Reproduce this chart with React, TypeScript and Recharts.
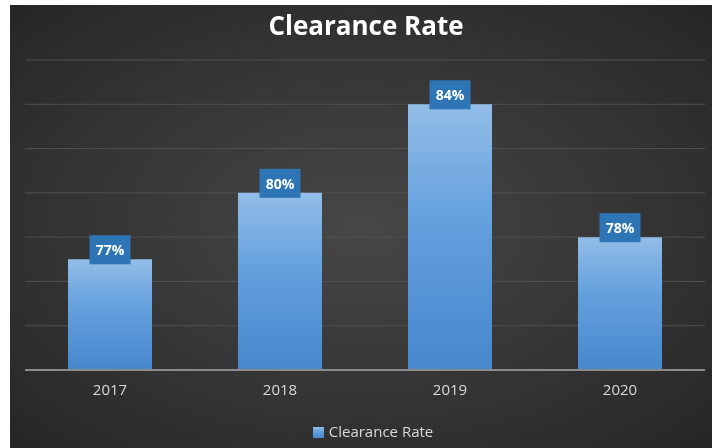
import React from 'react';
import { BarChart, Bar, XAxis, YAxis, CartesianGrid, Legend, LabelList } from 'recharts';

const years = ['2017', '2018', '2019', '2020'];
const clearanceRate = [77, 80, 84, 78];
const yTicks = [72, 74, 76, 78, 80, 82, 84, 86];

const data = years.map((year, i) => ({ year, rate: clearanceRate[i] }));

const FONT = '"Open Sans", "DejaVu Sans", sans-serif';

// dark blue box sitting across the top edge of each bar
const BoxLabel = (props: any) => {
  const { x, y, width, value } = props;
  const cx = Number(x) + Number(width) / 2;
  const w = 41;
  const h = 29;
  const top = Number(y) + 5 - h;
  return (
    <g>
      <rect x={cx - w / 2} y={top} width={w} height={h} fill="#2e75b6" />
      <text
        x={cx}
        y={top + h / 2}
        textAnchor="middle"
        dominantBaseline="central"
        fill="#ffffff"
        fontFamily={FONT}
        fontWeight={700}
        fontSize={14}
      >
        {value}%
      </text>
    </g>
  );
};

export default function App() {
  return (
    <div
      style={{
        position: 'fixed',
        left: 10,
        top: 5,
        width: 702,
        height: 443,
        background: 'radial-gradient(ellipse at 50% 50%, #474747 0%, #383838 45%, #262626 100%)',
        fontFamily: FONT,
      }}
    >
      <div
        style={{
          position: 'absolute',
          top: 2,
          left: 0,
          width: 712,
          textAlign: 'center',
          color: '#ffffff',
          fontWeight: 700,
          fontSize: 26,
        }}
      >
        Clearance Rate
      </div>
      <BarChart
        width={702}
        height={443}
        data={data}
        margin={{ top: 55, right: 7, left: 15, bottom: 6 }}
      >
        <defs>
          <linearGradient id="barFill" x1="0" y1="0" x2="0" y2="1">
            <stop offset="0%" stopColor="#92bde7" />
            <stop offset="45%" stopColor="#629fdd" />
            <stop offset="100%" stopColor="#4787cc" />
          </linearGradient>
        </defs>
        <CartesianGrid vertical={false} stroke="#505050" strokeWidth={1} />
        <XAxis
          dataKey="year"
          height={50}
          tickLine={false}
          axisLine={{ stroke: '#8c8c8c', strokeWidth: 2 }}
          tickMargin={8}
          tick={{ fill: '#d9d9d9', fontSize: 15, fontFamily: FONT }}
        />
        <YAxis hide domain={[72, 86]} ticks={yTicks} />
        <Legend
          verticalAlign="bottom"
          iconType="square"
          iconSize={11}
          wrapperStyle={{ paddingLeft: 13 }}
          formatter={(v) => <span style={{ color: '#d9d9d9', fontSize: 15, marginLeft: 1 }}>{v}</span>}
        />
        <Bar dataKey="rate" name="Clearance Rate" fill="url(#barFill)" barSize={84} isAnimationActive={false}>
          <LabelList dataKey="rate" content={BoxLabel} />
        </Bar>
      </BarChart>
    </div>
  );
}
